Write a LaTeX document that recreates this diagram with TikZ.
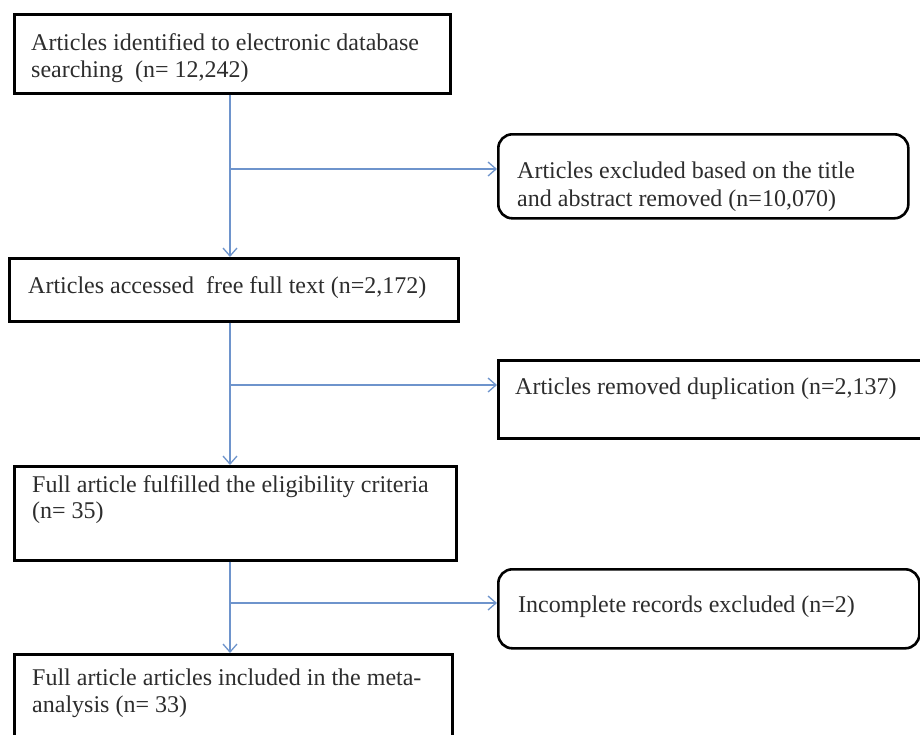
\documentclass[tikz,border=0pt]{standalone}
\usepackage{fontspec}
\setmainfont{Liberation Serif}
\usetikzlibrary{arrows.meta}
\definecolor{lineblue}{RGB}{110,148,204}
\definecolor{txt}{RGB}{45,45,45}
\begin{document}
\begin{tikzpicture}[x=1pt,y=-1pt,
  box/.style={draw=black, line width=2.6pt, inner sep=0pt, anchor=north west},
  rbox/.style={box, rounded corners=14pt},
  lbl/.style={anchor=base west, inner sep=0pt, text=txt, font=\fontsize{24}{28}\selectfont},
  flow/.style={draw=lineblue, line width=1.3pt},
  arr/.style={flow, -{Straight Barb[length=8pt,width=14pt,line width=1.3pt]}}]
\useasboundingbox[fill=white] (0,0) rectangle (920,734);
% main column boxes
\node[box, minimum width=436pt, minimum height=79pt] (b1) at (13,13) {};
\node[box, minimum width=449pt, minimum height=63pt] (b3) at (8,257) {};
\node[box, minimum width=442pt, minimum height=94pt] (b5) at (13,465) {};
\node[box, minimum width=438pt, minimum height=95pt] (b7) at (13,653) {};
% side boxes
\node[rbox, minimum width=410pt, minimum height=84pt] (b2) at (497,133) {};
\node[box, minimum width=424pt, minimum height=78pt] (b4) at (497,359) {};
\node[rbox, minimum width=421pt, minimum height=79pt] (b6) at (497,568) {};
% texts
\node[lbl] (t1a) at (31,50) {Articles identified to electronic database};
\node[lbl] (t1b) at (31,77) {searching\ \ (n= 12,242)};
\node[lbl] (t2a) at (517,178) {Articles excluded based on the title};
\node[lbl] (t2b) at (517,206) {and abstract removed (n=10,070)};
\node[lbl] (t3) at (28,293) {Articles accessed\ \ free full text (n=2,172)};
\node[lbl] (t4) at (515,394) {Articles removed duplication (n=2,137)};
\node[lbl] (t5a) at (32,492) {Full article fulfilled the eligibility criteria};
\node[lbl] (t5b) at (32,518) {(n= 35)};
\node[lbl] (t6) at (518,612) {Incomplete records excluded (n=2)};
\node[lbl] (t7a) at (32,685) {Full article articles included in the meta-};
\node[lbl] (t7b) at (32,712) {analysis (n= 33)};
% junctions
\coordinate (j1) at (230,169);
\coordinate (j2) at (230,385);
\coordinate (j3) at (230,603);
% connectors
\draw[arr] (b1.south -| j1) -- (b3.north -| j1);
\draw[arr] (j1) -- (j1 -| b2.west);
\draw[arr] (b3.south -| j2) -- (b5.north -| j2);
\draw[arr] (j2) -- (j2 -| b4.west);
\draw[arr] (b5.south -| j3) -- (b7.north -| j3);
\draw[arr] (j3) -- (j3 -| b6.west);
\end{tikzpicture}
\end{document}
